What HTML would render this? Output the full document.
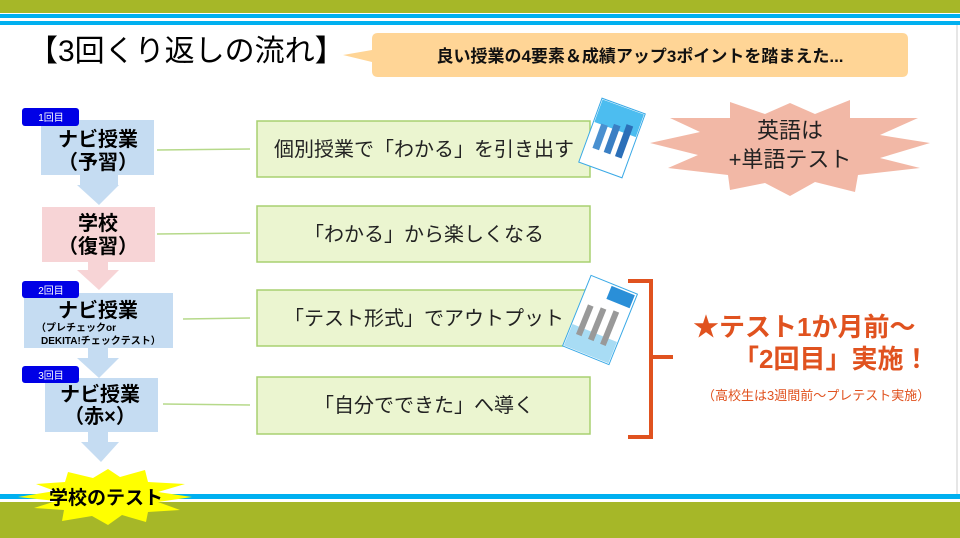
<!DOCTYPE html>
<html><head><meta charset="utf-8"><style>
html,body{margin:0;padding:0;background:#fff;}
svg{display:block;font-family:"Liberation Sans","Noto Sans CJK JP",sans-serif;}
</style></head><body>
<svg width="960" height="538" viewBox="0 0 960 538" xmlns="http://www.w3.org/2000/svg">
<rect x="0" y="0" width="960" height="13" fill="#a6b728"/>
<rect x="0" y="14" width="960" height="4" fill="#00b0f0"/>
<rect x="0" y="21" width="960" height="4" fill="#00b0f0"/>
<rect x="0" y="494" width="960" height="5" fill="#00b0f0"/>
<rect x="0" y="502" width="960" height="36" fill="#a6b728"/>
<rect x="956" y="25" width="2" height="469" fill="#e6e6e6"/>

<text x="28" y="61" font-size="30" fill="#000">【3回くり返しの流れ】</text>

<path d="M378,33 H902 Q908,33 908,39 V71 Q908,77 902,77 H378 Q372,77 372,71 V62 L343,55 L372,50 V39 Q372,33 378,33 Z" fill="#ffd596"/>
<text x="640" y="62" font-size="17" font-weight="bold" text-anchor="middle" fill="#111">良い授業の4要素＆成績アップ3ポイントを踏まえた...</text>

<path d="M80,175 H118 V185 H119 L99,205 L77,185 H80 Z" fill="#c5dcf2"/>
<path d="M88,262 H108 V270 H119 L99,290 L77,270 H88 Z" fill="#f7d4d6"/>
<path d="M88,348 H108 V358 H119 L99,378 L77,358 H88 Z" fill="#c5dcf2"/>
<path d="M88,432 H108 V442 H119 L101,462 L81,442 H88 Z" fill="#c5dcf2"/>

<rect x="41" y="120" width="113" height="55" fill="#c5dcf2"/>
<text x="98" y="146" font-size="20" font-weight="bold" text-anchor="middle">ナビ授業</text>
<text x="98" y="169" font-size="20" font-weight="bold" text-anchor="middle">（予習）</text>
<rect x="42" y="207" width="113" height="55" fill="#f7d4d6"/>
<text x="98" y="230" font-size="20" font-weight="bold" text-anchor="middle">学校</text>
<text x="98" y="253" font-size="20" font-weight="bold" text-anchor="middle">（復習）</text>
<rect x="24" y="293" width="149" height="55" fill="#c5dcf2"/>
<text x="98" y="317" font-size="20" font-weight="bold" text-anchor="middle">ナビ授業</text>
<text x="36" y="331" font-size="10" font-weight="bold">（プレチェックor</text>
<text x="41" y="344" font-size="10" font-weight="bold">DEKITA!チェックテスト）</text>
<rect x="45" y="378" width="113" height="54" fill="#c5dcf2"/>
<text x="100" y="401" font-size="20" font-weight="bold" text-anchor="middle">ナビ授業</text>
<text x="100" y="423" font-size="20" font-weight="bold" text-anchor="middle">（赤×）</text>

<g font-size="10" fill="#fff" text-anchor="middle">
<rect x="22" y="108" width="57" height="18" rx="3" fill="#0000e6"/><text x="51" y="121">1回目</text>
<rect x="22" y="281" width="57" height="17" rx="3" fill="#0000e6"/><text x="51" y="294">2回目</text>
<rect x="22" y="366" width="57" height="17" rx="3" fill="#0000e6"/><text x="51" y="379">3回目</text>
</g>

<g stroke="#b6d98a" stroke-width="1.5">
<line x1="157" y1="150" x2="250" y2="149"/>
<line x1="157" y1="234" x2="250" y2="233"/>
<line x1="183" y1="319" x2="250" y2="318"/>
<line x1="163" y1="404" x2="250" y2="405"/>
</g>

<g fill="#ebf5d0" stroke="#a8d070" stroke-width="1.5">
<rect x="257" y="121" width="333" height="56"/>
<rect x="257" y="206" width="333" height="56"/>
<rect x="257" y="290" width="333" height="56"/>
<rect x="257" y="377" width="333" height="57"/>
</g>
<g font-size="20" fill="#222" text-anchor="middle">
<text x="424" y="156">個別授業で「わかる」を引き出す</text>
<text x="424" y="241">「わかる」から楽しくなる</text>
<text x="424" y="325">「テスト形式」でアウトプット</text>
<text x="424" y="412">「自分でできた」へ導く</text>
</g>

<g transform="translate(612,138) rotate(20)">
<rect x="-23" y="-34" width="46" height="68" fill="#fff" stroke="#3aa9e6" stroke-width="1"/>
<rect x="-22" y="-33" width="44" height="24" fill="#4cbdf0"/>
<rect x="-15" y="-10" width="7" height="26" fill="#4a90d0"/>
<rect x="-3" y="-14" width="7" height="30" fill="#3a7fc4"/>
<rect x="9" y="-18" width="7" height="34" fill="#2b6fb8"/>
</g>
<g transform="translate(600,320) rotate(22)">
<rect x="-25" y="-38" width="50" height="76" fill="#fff" stroke="#3aa9e6" stroke-width="1"/>
<rect x="-24" y="14" width="48" height="23" fill="#a8dcf4"/>
<rect x="-2" y="-36" width="25" height="14" fill="#2a8fd8"/>
<rect x="-17" y="-10" width="6" height="32" fill="#999"/>
<rect x="-4" y="-12" width="6" height="34" fill="#999"/>
<rect x="9" y="-14" width="6" height="36" fill="#999"/>
</g>

<polygon points="790,103 815,114 850,100 850,118 918,118 880,135 930,143 880,158 920,168 858,175 855,192 815,182 790,196 765,183 730,190 728,175 668,168 698,155 650,143 700,132 670,118 730,118 730,102 765,114" fill="#f2b8a6"/>
<text x="790" y="138" font-size="22" text-anchor="middle" fill="#222">英語は</text>
<text x="790" y="167" font-size="22" text-anchor="middle" fill="#222">+単語テスト</text>

<path d="M628,281 H651 V437 H628 M651,357 H673" fill="none" stroke="#e0521f" stroke-width="4"/>
<text x="693" y="336" font-size="26" font-weight="bold" fill="#e0521f">★テスト1か月前～</text>
<text x="733" y="368" font-size="26" font-weight="bold" fill="#e0521f">「2回目」実施！</text>
<text x="702" y="400" font-size="13" fill="#e0521f">（高校生は3週間前～プレテスト実施）</text>

<polygon points="108,469 120,477 145,470 148,482 185,484 158,492 192,497 158,502 180,510 148,512 146,522 122,515 108,525 92,516 62,521 64,510 34,508 56,501 18,497 55,491 36,484 65,482 68,472 93,478" fill="#ffff00"/>
<text x="106" y="504" font-size="19" font-weight="bold" text-anchor="middle">学校のテスト</text>
</svg>
</body></html>
